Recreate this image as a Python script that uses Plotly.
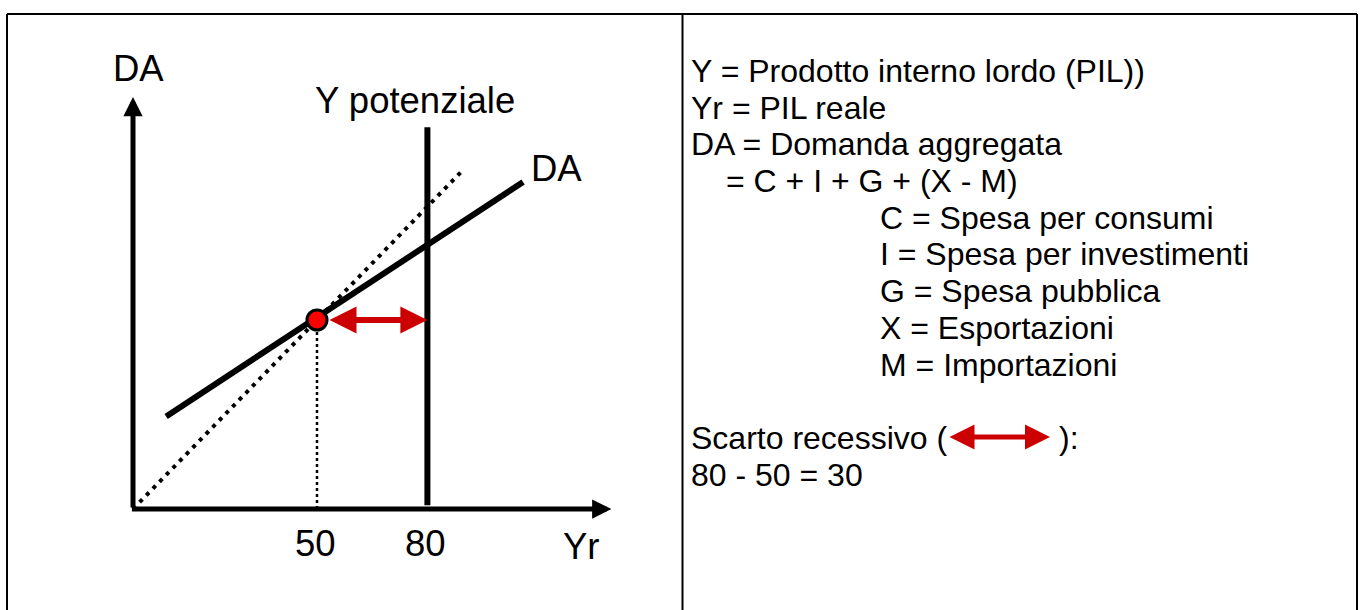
import plotly.graph_objects as go

# ---------------- data ----------------
FONT = "Liberation Sans, Arial, sans-serif"

# 45-degree reference line (DA = Yr)
diag_x = [0, 90]
diag_y = [0, 90]

# aggregate demand line DA
da_x = [9, 106]
da_y = [24.5, 86.5]

# potential output
y_pot = 80
y_pot_span = [1, 101]

# equilibrium
eq_x = 50
eq_y = 50

# axis extents
x_axis_max = 130
y_axis_max = 109

tick_values = [50, 80]
tick_labels = ["50", "80"]

legend_lines = [
    "Y = Prodotto interno lordo (PIL))",
    "Yr = PIL reale",
    "DA = Domanda aggregata",
    "= C + I + G + (X - M)",
    "C = Spesa per consumi",
    "I = Spesa per investimenti",
    "G = Spesa pubblica",
    "X = Esportazioni",
    "M = Importazioni",
    "",
    "Scarto recessivo (",
    "80 - 50 = 30",
]
legend_indent = [692, 692, 692, 727, 881, 881, 881, 881, 881, 692, 692, 692]
gap_close = "):"

# ---------------- layout helpers ----------------
W, H = 1362, 610
TXT_PAD = 3                       # annotation inner padding
X0_PX, XS = 133, 3.68             # data x=0 at pixel 133
Y0_PX, YS = 509, 3.78             # data y=0 at pixel 509
x_range = [-X0_PX / XS, (W - X0_PX) / XS]
y_range = [(Y0_PX - H) / YS, Y0_PX / YS]


def px(x):
    return x / W


def py(y):
    return 1 - y / H


fig = go.Figure()

# dotted 45-degree line
fig.add_trace(go.Scatter(x=diag_x, y=diag_y, mode="lines",
                         line=dict(color="black", width=4, dash="4px,5.5px"),
                         hoverinfo="skip", showlegend=False))
# dotted drop line from equilibrium
fig.add_trace(go.Scatter(x=[eq_x, eq_x], y=[0, eq_y], mode="lines",
                         line=dict(color="black", width=2.5, dash="3px,3px"),
                         hoverinfo="skip", showlegend=False))
# DA line
fig.add_trace(go.Scatter(x=da_x, y=da_y, mode="lines",
                         line=dict(color="black", width=6),
                         hoverinfo="skip", showlegend=False))
# potential output
fig.add_trace(go.Scatter(x=[y_pot, y_pot], y=y_pot_span, mode="lines",
                         line=dict(color="black", width=6),
                         hoverinfo="skip", showlegend=False))

annotations = []
# axes with arrowheads
annotations.append(dict(x=0, y=y_axis_max, ax=0, ay=0, xref="x", yref="y",
                        axref="x", ayref="y", showarrow=True, arrowhead=2,
                        arrowsize=0.77, arrowwidth=5, arrowcolor="black", text=""))
annotations.append(dict(x=x_axis_max, y=0, ax=-0.7, ay=0, xref="x", yref="y",
                        axref="x", ayref="y", showarrow=True, arrowhead=2,
                        arrowsize=0.77, arrowwidth=5, arrowcolor="black", text=""))
# recessionary gap arrow
annotations.append(dict(x=y_pot, y=eq_y, ax=eq_x, ay=eq_y, xref="x", yref="y",
                        axref="x", ayref="y", showarrow=True, arrowhead=2,
                        startarrowhead=2, arrowside="end+start",
                        arrowsize=0.9, startarrowsize=0.9, arrowwidth=6,
                        startstandoff=11, arrowcolor="#cc0000", text=""))

lab_font = dict(family=FONT, size=36.5, color="black")
txt_font = dict(family=FONT, size=32, color="black")
annotations.append(dict(x=1.4, y=116.5, xref="x", yref="y", text="DA",
                        showarrow=False, font=lab_font))
annotations.append(dict(x=76.6, y=108, xref="x", yref="y", text="Y potenziale",
                        showarrow=False, font=lab_font))
annotations.append(dict(x=115, y=90, xref="x", yref="y", text="DA",
                        showarrow=False, font=lab_font))
for v, t in zip(tick_values, tick_labels):
    annotations.append(dict(x=v - 0.5, y=-9.2, xref="x", yref="y", text=t,
                            showarrow=False, font=lab_font))
annotations.append(dict(x=122, y=-10, xref="x", yref="y", text="Yr",
                        showarrow=False, font=lab_font))

# right-hand legend text
y_first, y_step = 71, 36.7
for i, (t, xi) in enumerate(zip(legend_lines, legend_indent)):
    if not t:
        continue
    annotations.append(dict(x=px(xi - TXT_PAD), y=py(y_first + i * y_step),
                            xref="paper", yref="paper", xanchor="left",
                            yanchor="middle", text=t, showarrow=False,
                            font=txt_font))
gap_y = y_first + 10 * y_step
annotations.append(dict(x=px(1050), y=py(gap_y - 1), ax=-102, ay=0,
                        xref="paper", yref="paper", showarrow=True,
                        arrowhead=2, startarrowhead=2, arrowside="end+start",
                        arrowsize=1.0, startarrowsize=1.0, arrowwidth=5,
                        arrowcolor="#cc0000", text=""))
annotations.append(dict(x=px(1060 - TXT_PAD), y=py(gap_y), xref="paper",
                        yref="paper", xanchor="left", yanchor="middle",
                        text=gap_close, showarrow=False, font=txt_font))

# equilibrium point
fig.add_trace(go.Scatter(x=[eq_x], y=[eq_y], mode="markers",
                         marker=dict(size=20, color="#ff0000",
                                     line=dict(color="black", width=3)),
                         hoverinfo="skip", showlegend=False))

border = dict(color="black", width=2)
shapes = [
    dict(type="line", xref="paper", yref="paper", x0=px(7), x1=px(1357),
         y0=py(14), y1=py(14), line=border),
    dict(type="line", xref="paper", yref="paper", x0=px(7), x1=px(7),
         y0=py(14), y1=py(640), line=border),
    dict(type="line", xref="paper", yref="paper", x0=px(1357), x1=px(1357),
         y0=py(14), y1=py(640), line=border),
    dict(type="line", xref="paper", yref="paper", x0=px(682.5), x1=px(682.5),
         y0=py(14), y1=py(640), line=border),
]

fig.update_layout(
    width=W, height=H,
    margin=dict(l=0, r=0, t=0, b=0),
    paper_bgcolor="white", plot_bgcolor="white",
    xaxis=dict(range=x_range, domain=[0, 1], visible=False, fixedrange=True),
    yaxis=dict(range=y_range, domain=[0, 1], visible=False, fixedrange=True),
    annotations=annotations, shapes=shapes,
    showlegend=False,
)

fig.write_html(
    "out.html",
    config={"displayModeBar": False},
    post_script="document.body.style.margin='0';"
                "document.documentElement.style.overflow='hidden';",
)
